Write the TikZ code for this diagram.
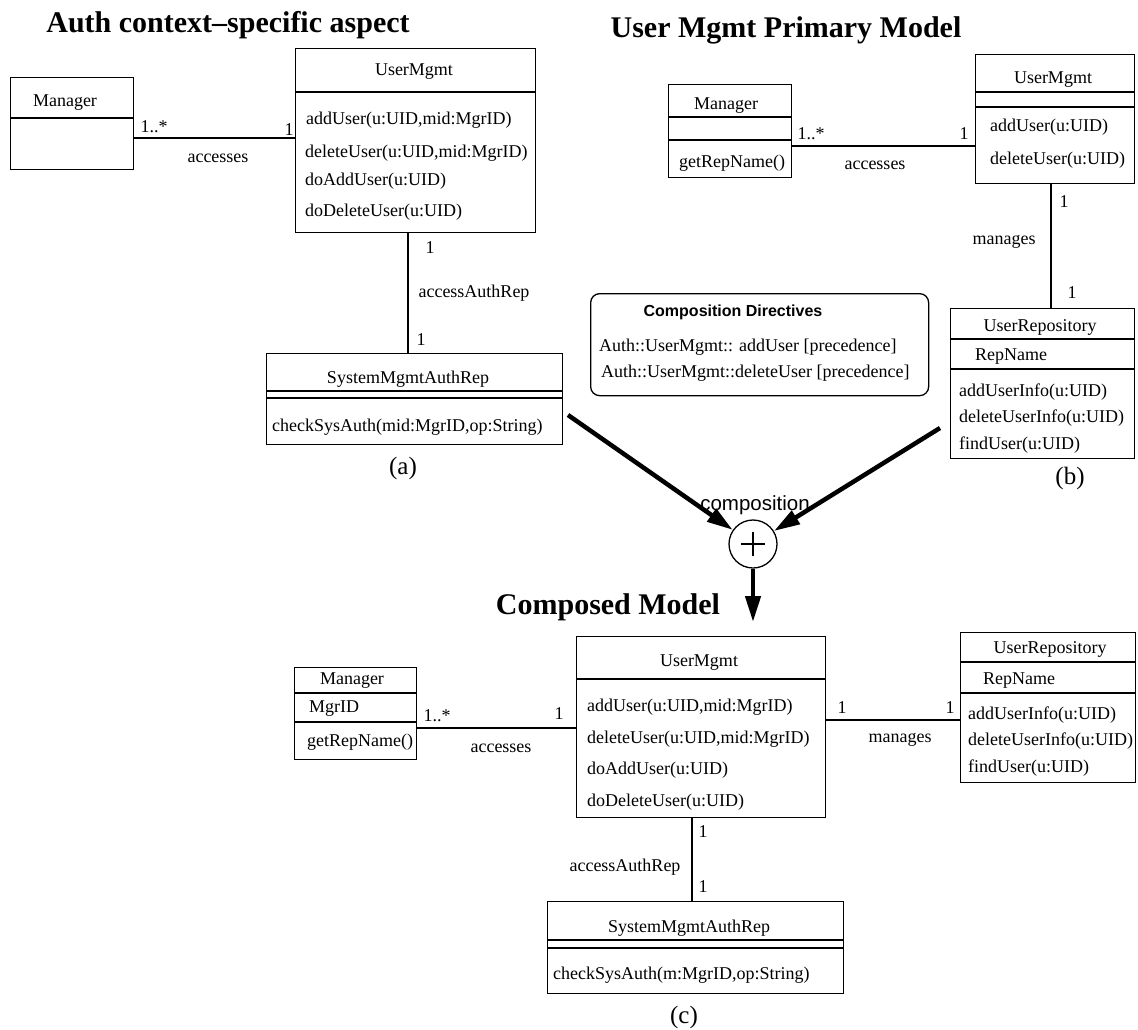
\documentclass[tikz,border=0pt]{standalone}
\usepackage{fontspec}
\setmainfont{Liberation Serif}
\newfontfamily\sansf{Liberation Sans}
\usetikzlibrary{arrows.meta}
\newcommand\fsz{\fontsize{18}{21}\selectfont}
\begin{document}
\begin{tikzpicture}[x=1pt,y=-1pt,
  box/.style={draw, line width=1.3pt, inner sep=0pt, anchor=north west},
  conn/.style={line width=1.3pt},
  sep/.style={line width=1.3pt},
  mth/.style={font=\fsz, inner sep=0pt, anchor=west},
  hdr/.style={font=\fsz, inner sep=0pt},
  lbl/.style={font=\fsz, inner sep=0pt},
  ttl/.style={font=\fontsize{30}{34}\selectfont\bfseries, inner sep=0pt, anchor=base},
  subcap/.style={font=\fontsize{25}{28}\selectfont, inner sep=0pt},
  bigarrow/.style={line width=4.5pt, -{Triangle[length=26pt,width=15pt]}}
]
\fill[white] (0,0) rectangle (1138,1029);
\useasboundingbox (0,0) rectangle (1138,1029);

% ---------------- (a) ----------------
\node[ttl] (ttlA) at (228,32) {Auth context--specific aspect};
\node[box, minimum width=123, minimum height=92] (mgrA) at (10,77) {};
\draw[sep] (mgrA.west |- 0,118) -- (mgrA.east |- 0,118);
\node[hdr] (mgrAn) at (65,103) {Manager};

\node[box, minimum width=240, minimum height=184] (umA) at (295,48) {};
\draw[sep] (umA.west |- 0,92) -- (umA.east |- 0,92);
\node[hdr] (umAn) at (414,72) {UserMgmt};
\node[mth] (umA1) at (306,120) {addUser(u:UID,mid:MgrID)};
\node[mth] (umA2) at (305,153) {deleteUser(u:UID,mid:MgrID)};
\node[mth] (umA3) at (305,181) {doAddUser(u:UID)};
\node[mth] (umA4) at (305,212) {doDeleteUser(u:UID)};

\node[box, minimum width=296, minimum height=91] (sysA) at (266,353) {};
\draw[sep] (sysA.west |- 0,391) -- (sysA.east |- 0,391);
\draw[sep] (sysA.west |- 0,398) -- (sysA.east |- 0,398);
\node[hdr] (sysAn) at (408,379) {SystemMgmtAuthRep};
\node[mth] (sysA1) at (272,427) {checkSysAuth(mid:MgrID,op:String)};

\draw[conn] (mgrA.east |- 0,138) -- (umA.west |- 0,138);
\node[lbl] (la1) at (154,127) {1..*};
\node[lbl] (la2) at (289,130) {1};
\node[lbl] (la3) at (218,158) {accesses};
\draw[conn] (408,0 |- umA.south) -- (408,0 |- sysA.north);
\node[lbl] (la4) at (430,248) {1};
\node[lbl] (la5) at (474,293) {accessAuthRep};
\node[lbl] (la6) at (421,340) {1};
\node[subcap] (capA) at (403,468) {(a)};

% ---------------- (b) ----------------
\node[ttl] (ttlB) at (786,37) {User Mgmt Primary Model};
\node[box, minimum width=123, minimum height=93] (mgrB) at (668,84) {};
\draw[sep] (mgrB.west |- 0,117) -- (mgrB.east |- 0,117);
\draw[sep] (mgrB.west |- 0,140) -- (mgrB.east |- 0,140);
\node[hdr] (mgrBn) at (726,106) {Manager};
\node[mth] (mgrB1) at (679,163) {getRepName()};

\node[box, minimum width=159, minimum height=129] (umB) at (975,54) {};
\draw[sep] (umB.west |- 0,92) -- (umB.east |- 0,92);
\draw[sep] (umB.west |- 0,107) -- (umB.east |- 0,107);
\node[hdr] (umBn) at (1053,80) {UserMgmt};
\node[mth] (umB1) at (990,127) {addUser(u:UID)};
\node[mth] (umB2) at (990,160) {deleteUser(u:UID)};

\node[box, minimum width=184, minimum height=150] (repB) at (950,308) {};
\draw[sep] (repB.west |- 0,339) -- (repB.east |- 0,339);
\draw[sep] (repB.west |- 0,369) -- (repB.east |- 0,369);
\node[hdr] (repBn) at (1040,327) {UserRepository};
\node[mth] (repB0) at (975,357) {RepName};
\node[mth] (repB1) at (959,392) {addUserInfo(u:UID)};
\node[mth] (repB2) at (959,418) {deleteUserInfo(u:UID)};
\node[mth] (repB3) at (959,445) {findUser(u:UID)};

\draw[conn] (mgrB.east |- 0,146) -- (umB.west |- 0,146);
\node[lbl] (lb1) at (811,134) {1..*};
\node[lbl] (lb2) at (964,134) {1};
\node[lbl] (lb3) at (875,165) {accesses};
\draw[conn] (1051,0 |- umB.south) -- (1051,0 |- repB.north);
\node[lbl] (lb4) at (1064,202) {1};
\node[lbl] (lb5) at (1004,242) {manages};
\node[lbl] (lb6) at (1072,293) {1};
\node[subcap] (capB) at (1070,478) {(b)};

% directives
\node[box, rounded corners=9pt, minimum width=338, minimum height=102] (dirs) at (590,293) {};
\node[font=\sansf\bfseries\fontsize{16}{19}\selectfont, inner sep=0pt] (dirsT) at (733,312) {Composition Directives};
\node[mth] (dir1) at (599,347) {Auth::UserMgmt:: addUser [precedence]};
\node[mth] (dir2) at (601,373) {Auth::UserMgmt::deleteUser [precedence]};

% composition
\node[draw, circle, line width=1.3pt, minimum size=48pt, inner sep=0pt,
  path picture={\draw[line width=2.2pt] ([xshift=-12pt]path picture bounding box.center) -- ([xshift=12pt]path picture bounding box.center);
                \draw[line width=2.2pt] ([yshift=-12pt]path picture bounding box.center) -- ([yshift=12pt]path picture bounding box.center);}] (plus) at (753,544) {};
\node[font=\sansf\fontsize{20.5}{24}\selectfont, inner sep=0pt] (compo) at (755,505) {composition};
\coordinate (srcA) at (568,415);
\coordinate (srcB) at (940,428);
\coordinate (dst) at (753,622);
\draw[bigarrow] (srcA) -- (plus);
\draw[bigarrow] (srcB) -- (plus);
\draw[bigarrow] (plus) -- (dst);

% ---------------- (c) ----------------
\node[ttl] (ttlC) at (608,614) {Composed Model};
\node[box, minimum width=122, minimum height=92] (mgrC) at (294,667) {};
\draw[sep] (mgrC.west |- 0,693) -- (mgrC.east |- 0,693);
\draw[sep] (mgrC.west |- 0,722) -- (mgrC.east |- 0,722);
\node[hdr] (mgrCn) at (352,681) {Manager};
\node[mth] (mgrC0) at (309,709) {MgrID};
\node[mth] (mgrC1) at (307,742) {getRepName()};

\node[box, minimum width=249, minimum height=181] (umC) at (576,636) {};
\draw[sep] (umC.west |- 0,679) -- (umC.east |- 0,679);
\node[hdr] (umCn) at (699,663) {UserMgmt};
\node[mth] (umC1) at (587,707) {addUser(u:UID,mid:MgrID)};
\node[mth] (umC2) at (587,739) {deleteUser(u:UID,mid:MgrID)};
\node[mth] (umC3) at (587,770) {doAddUser(u:UID)};
\node[mth] (umC4) at (587,802) {doDeleteUser(u:UID)};

\node[box, minimum width=175, minimum height=150] (repC) at (960,632) {};
\draw[sep] (repC.west |- 0,662) -- (repC.east |- 0,662);
\draw[sep] (repC.west |- 0,693) -- (repC.east |- 0,693);
\node[hdr] (repCn) at (1050,649) {UserRepository};
\node[mth] (repC0) at (983,681) {RepName};
\node[mth] (repC1) at (968,715) {addUserInfo(u:UID)};
\node[mth] (repC2) at (968,741) {deleteUserInfo(u:UID)};
\node[mth] (repC3) at (968,768) {findUser(u:UID)};

\node[box, minimum width=296, minimum height=92] (sysC) at (547,901) {};
\draw[sep] (sysC.west |- 0,940) -- (sysC.east |- 0,940);
\draw[sep] (sysC.west |- 0,948) -- (sysC.east |- 0,948);
\node[hdr] (sysCn) at (689,928) {SystemMgmtAuthRep};
\node[mth] (sysC1) at (553,975) {checkSysAuth(m:MgrID,op:String)};

\draw[conn] (mgrC.east |- 0,728) -- (umC.west |- 0,728);
\node[lbl] (lc1) at (437,716) {1..*};
\node[lbl] (lc2) at (559,714) {1};
\node[lbl] (lc3) at (501,748) {accesses};
\draw[conn] (umC.east |- 0,720) -- (repC.west |- 0,720);
\node[lbl] (lc4) at (842,708) {1};
\node[lbl] (lc5) at (950,708) {1};
\node[lbl] (lc6) at (900,740) {manages};
\draw[conn] (692,0 |- umC.south) -- (692,0 |- sysC.north);
\node[lbl] (lc7) at (703,832) {1};
\node[lbl] (lc8) at (625,867) {accessAuthRep};
\node[lbl] (lc9) at (703,887) {1};
\node[subcap] (capC) at (684,1017) {(c)};
\end{tikzpicture}
\end{document}
